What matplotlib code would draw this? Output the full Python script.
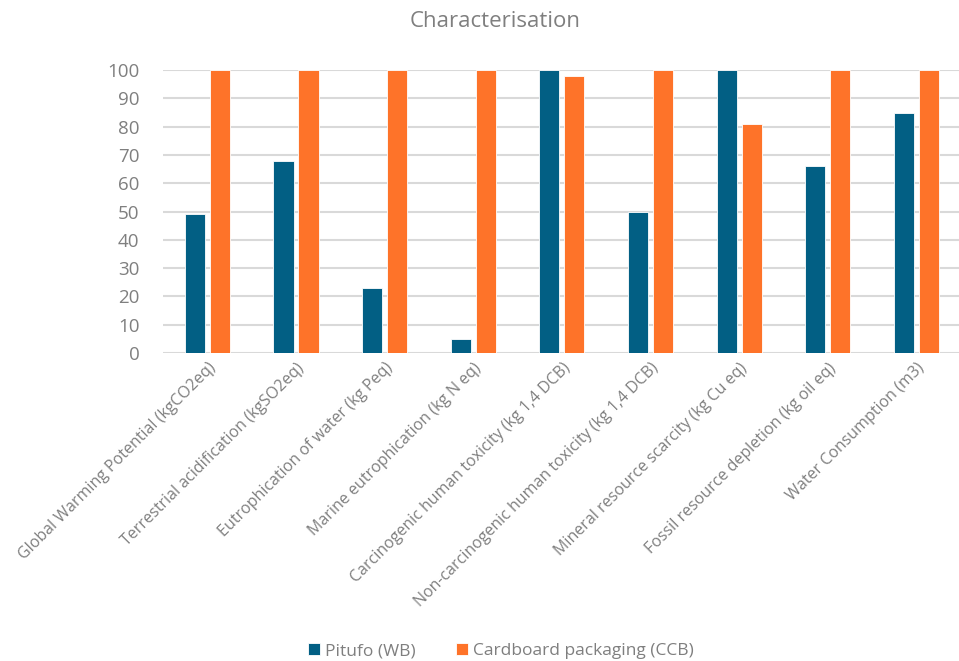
import matplotlib
matplotlib.use("Agg")
import matplotlib.pyplot as plt
import numpy as np

categories = [
    "Global Warming Potential (kgCO2eq)",
    "Terrestrial acidification (kgSO2eq)",
    "Eutrophication of water (kg Peq)",
    "Marine eutrophication (kg N eq)",
    "Carcinogenic human toxicity (kg 1,4 DCB)",
    "Non-carcinogenic human toxicity (kg 1,4 DCB)",
    "Mineral resource scarcity (kg Cu eq)",
    "Fossil resource depletion (kg oil eq)",
    "Water Consumption (m3)",
]
pitufo = [49, 68, 23, 5, 100, 50, 100, 66, 85]
cardboard = [100, 100, 100, 100, 98, 100, 81, 100, 100]
series_names = ["Pitufo (WB)", "Cardboard packaging (CCB)"]
yticks = [0, 10, 20, 30, 40, 50, 60, 70, 80, 90, 100]

plt.rcParams['font.family'] = ['Open Sans', 'DejaVu Sans']
gray = '#7f7f7f'

fig = plt.figure(figsize=(9.59, 6.61), dpi=100)
ax = fig.add_axes([0.170, 0.466, 0.832, 0.428])

x = np.arange(len(categories))
w = 0.226
off = 0.141
ax.bar(x - off, pitufo, width=w, color='#025f84', edgecolor='#ffffff', linewidth=0.6, label=series_names[0], zorder=3)
ax.bar(x + off, cardboard, width=w, color='#fe7329', edgecolor='#ffffff', linewidth=0.6, label=series_names[1], zorder=3)

ax.set_xlim(-0.5, len(categories) - 0.5)
ax.set_ylim(0, 100)
ax.set_yticks(yticks)
ax.yaxis.grid(True, color='#d9d9d9', linewidth=1.5, zorder=0)
ax.set_axisbelow(True)
for s in ax.spines.values():
    s.set_visible(False)
ax.tick_params(axis='both', length=0, colors=gray)
ax.tick_params(axis='y', labelsize=13.5, pad=17)
ax.set_xticks(x)
ax.set_xticklabels(categories, rotation=45, ha='right', rotation_mode='anchor', fontsize=11.5, color=gray)
ax.tick_params(axis='x', pad=5)
for lbl in ax.get_yticklabels():
    lbl.set_color(gray)

fig.text(0.516, 0.968, "Characterisation", ha='center', va='center', fontsize=16, color=gray)

handles, labels = ax.get_legend_handles_labels()
fig.legend(handles, labels, loc='center', bbox_to_anchor=(0.522, 0.015), ncol=2, frameon=False,
           fontsize=12.5, labelcolor=gray, handlelength=0.7, handleheight=0.7, handletextpad=0.3,
           columnspacing=2.3)

fig.savefig("out.png", dpi=100)
